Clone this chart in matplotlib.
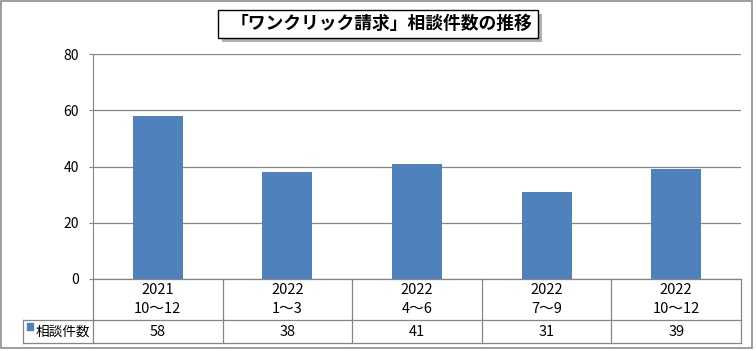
import matplotlib.pyplot as plt
from matplotlib.lines import Line2D
from matplotlib.patches import Rectangle

plt.rcParams['font.family'] = ['Noto Sans CJK JP', 'DejaVu Sans']

title = "「ワンクリック請求」相談件数の推移"
years = ["2021", "2022", "2022", "2022", "2022"]
quarters = ["10～12", "1～3", "4～6", "7～9", "10～12"]
series_name = "相談件数"
counts = [58, 38, 41, 31, 39]

W, H = 756, 351
bar_color = "#4F81BD"
grid_color = "#868686"


def fx(px):
    return px / W


def fy(py):
    return 1 - py / H


fig = plt.figure(figsize=(7.56, 3.51), dpi=100)

# outer frame
fig.add_artist(Rectangle((fx(1), fy(348)), fx(752) - fx(1), fy(1) - fy(348),
                         transform=fig.transFigure, fill=False,
                         edgecolor="#8c8c8c", linewidth=1.2))

left, right, top, bottom = 93, 741, 54, 279
ax = fig.add_axes([fx(left), fy(bottom), fx(right) - fx(left), fy(top) - fy(bottom)])

x = list(range(len(counts)))
ax.bar(x, counts, width=0.386, color=bar_color, zorder=3)
ax.set_xlim(-0.5, len(counts) - 0.5)
ax.set_ylim(0, 80)
ax.set_yticks([0, 20, 40, 60, 80])
ax.tick_params(axis="y", length=3, color=grid_color, labelsize=10, pad=7)
ax.set_xticks([])
ax.grid(axis="y", color=grid_color, linewidth=0.9, zorder=0)
for s in ["top", "right", "bottom"]:
    ax.spines[s].set_visible(False)
ax.spines["left"].set_color(grid_color)

# data table below axes
row1_top, row1_bot, row2_bot = 279, 320, 343
leg_left = 23
col_w = (right - left) / len(counts)
lc = "#868686"


def hline(x0, x1, y):
    fig.add_artist(Line2D([fx(x0), fx(x1)], [fy(y), fy(y)], color=lc, lw=0.9))


def vline(xp, y0, y1):
    fig.add_artist(Line2D([fx(xp), fx(xp)], [fy(y0), fy(y1)], color=lc, lw=0.9))


hline(left, right, row1_top)
hline(leg_left, right, row1_bot)
hline(leg_left, right, row2_bot)
vline(leg_left, row1_bot, row2_bot)
for i in range(len(counts) + 1):
    vline(left + i * col_w, row1_top, row2_bot)

fs = 10.5
for i in range(len(counts)):
    cx = fx(left + (i + 0.5) * col_w)
    fig.text(cx, fy(290), years[i], ha="center", va="center", fontsize=fs)
    fig.text(cx, fy(309), quarters[i], ha="center", va="center", fontsize=fs)
    fig.text(cx, fy(332), str(counts[i]), ha="center", va="center", fontsize=fs)

fig.add_artist(Rectangle((fx(27), fy(330)), fx(6), fy(323) - fy(330),
                         transform=fig.transFigure, color=bar_color))
fig.text(fx(36), fy(332), series_name, ha="left", va="center", fontsize=9.8)

# title with shadow box
tx0, tx1, ty0, ty1 = 218, 538, 10, 38
fig.add_artist(Rectangle((fx(tx0 + 4), fy(ty1 + 4)), fx(tx1 - tx0), fy(ty0) - fy(ty1),
                         transform=fig.transFigure, color="#b0b0b0", lw=0))
fig.add_artist(Rectangle((fx(tx0), fy(ty1)), fx(tx1 - tx0), fy(ty0) - fy(ty1),
                         transform=fig.transFigure, facecolor="white",
                         edgecolor="black", lw=1.0))
fig.text(fx(381), fy((ty0 + ty1) / 2), title, ha="center", va="center",
         fontsize=12.8, fontweight="bold")

fig.savefig("out.png", dpi=100)
